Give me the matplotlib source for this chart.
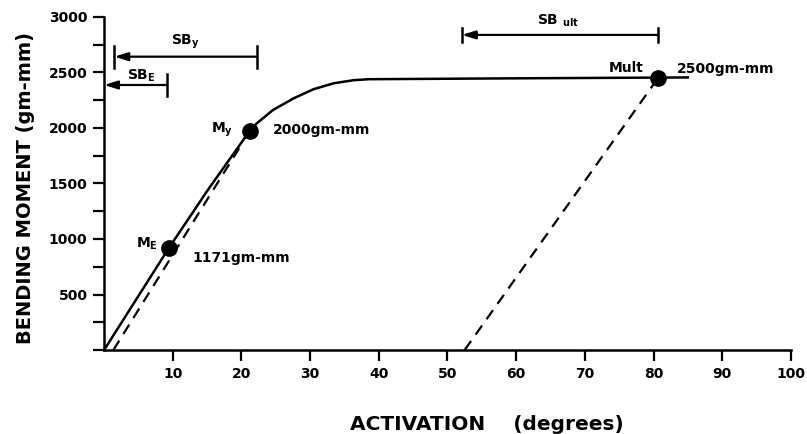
import matplotlib
matplotlib.use("Agg")
import matplotlib.pyplot as plt
from matplotlib.ticker import MultipleLocator

plt.rcParams['font.family'] = ['DejaVu Sans']
plt.rcParams['font.weight'] = 'bold'
plt.rcParams['mathtext.fontset'] = 'custom'
plt.rcParams['mathtext.rm'] = 'DejaVu Sans:bold'
plt.rcParams['mathtext.it'] = 'DejaVu Sans:bold'
plt.rcParams['mathtext.bf'] = 'DejaVu Sans:bold'

# loading curve (activation in degrees, bending moment in gm-mm)
curve_x = [0, 9.4, 15.2, 21.2, 22.2, 24.6, 27.6, 30.5, 33.4, 36.3, 38.5, 60.0, 85.0]
curve_y = [0, 916, 1450, 1973, 2040, 2162, 2267, 2349, 2402, 2430, 2439, 2447, 2455]

# unloading (dashed) lines
unload1_x = [1.35, 20.0]
unload1_y = [0, 1850]
unload2_x = [52.5, 80.7]
unload2_y = [0, 2453]

# marked points
pt_x = [9.4, 21.2, 80.7]
pt_y = [916, 1973, 2453]
pt_values = ["1171gm-mm", "2000gm-mm", "2500gm-mm"]

# springback bars: (left, right, level)
sb_left = [0, 1.5, 52.1]
sb_right = [9.1, 22.2, 80.7]
sb_level = [2387, 2642, 2838]

fig = plt.figure(figsize=(8.07, 4.34), dpi=100)
ax = fig.add_axes([0.129, 0.1935, 0.851, 0.7675])
ax.set_xlim(0, 100)
ax.set_ylim(0, 3000)

ax.plot(curve_x, curve_y, color='black', lw=1.8)
ax.plot(unload1_x, unload1_y, color='black', lw=1.6, dashes=(5, 3.5))
ax.plot(unload2_x, unload2_y, color='black', lw=1.6, dashes=(5, 3.5))
ax.plot(pt_x, pt_y, 'o', color='black', ms=11, zorder=5)

# springback bars with left arrows and end caps
for l, r, lev in zip(sb_left, sb_right, sb_level):
    ax.annotate('', xy=(l, lev), xytext=(r, lev),
                arrowprops=dict(arrowstyle='-|>,head_length=0.8,head_width=0.25',
                                color='black', lw=1.6, shrinkA=0, shrinkB=0),
                annotation_clip=False)
    cap = 100 if lev < 2800 else 65
    ax.plot([r, r], [lev - cap, lev + cap], color='black', lw=1.8)
    if l > 0:
        ax.plot([l, l], [lev - cap, lev + cap], color='black', lw=1.8)

ax.text(3.4, 2400, r'SB$_{\mathrm{E}}$', fontsize=10, ha='left', va='bottom')
ax.text(9.7, 2690, r'SB$_{\mathrm{y}}$', fontsize=10, ha='left', va='bottom')
ax.text(63.0, 2890, r'SB $_{\mathrm{ult}}$', fontsize=10, ha='left', va='bottom')

# point labels
ax.text(4.6, 960, r'M$_{\mathrm{E}}$', fontsize=10, ha='left', va='center')
ax.text(12.9, 830, pt_values[0], fontsize=10, ha='left', va='center')
ax.text(15.5, 1980, r'M$_{\mathrm{y}}$', fontsize=10, ha='left', va='center')
ax.text(24.6, 1980, pt_values[1], fontsize=10, ha='left', va='center')
ax.text(73.5, 2540, 'Mult', fontsize=10, ha='left', va='center')
ax.text(83.4, 2530, pt_values[2], fontsize=10, ha='left', va='center')

# axes styling
for side in ['top', 'right']:
    ax.spines[side].set_visible(False)
for side in ['left', 'bottom']:
    ax.spines[side].set_linewidth(1.8)
ax.set_xticks(range(10, 101, 10))
ax.yaxis.set_major_locator(MultipleLocator(500))
ax.yaxis.set_minor_locator(MultipleLocator(250))
ax.set_yticks([500, 1000, 1500, 2000, 2500, 3000])
ax.tick_params(axis='both', which='both', length=8, width=1.6, labelsize=10)
ax.tick_params(axis='y', pad=4)
ax.tick_params(axis='x', pad=4)

ax.set_xlabel('ACTIVATION    (degrees)', fontsize=14.5, fontweight='bold')
ax.set_ylabel('BENDING MOMENT (gm-mm)', fontsize=14, fontweight='bold')
ax.xaxis.set_label_coords(0.557, -0.195)
ax.yaxis.set_label_coords(-0.100, 0.485)

fig.savefig('out.png', dpi=100)
